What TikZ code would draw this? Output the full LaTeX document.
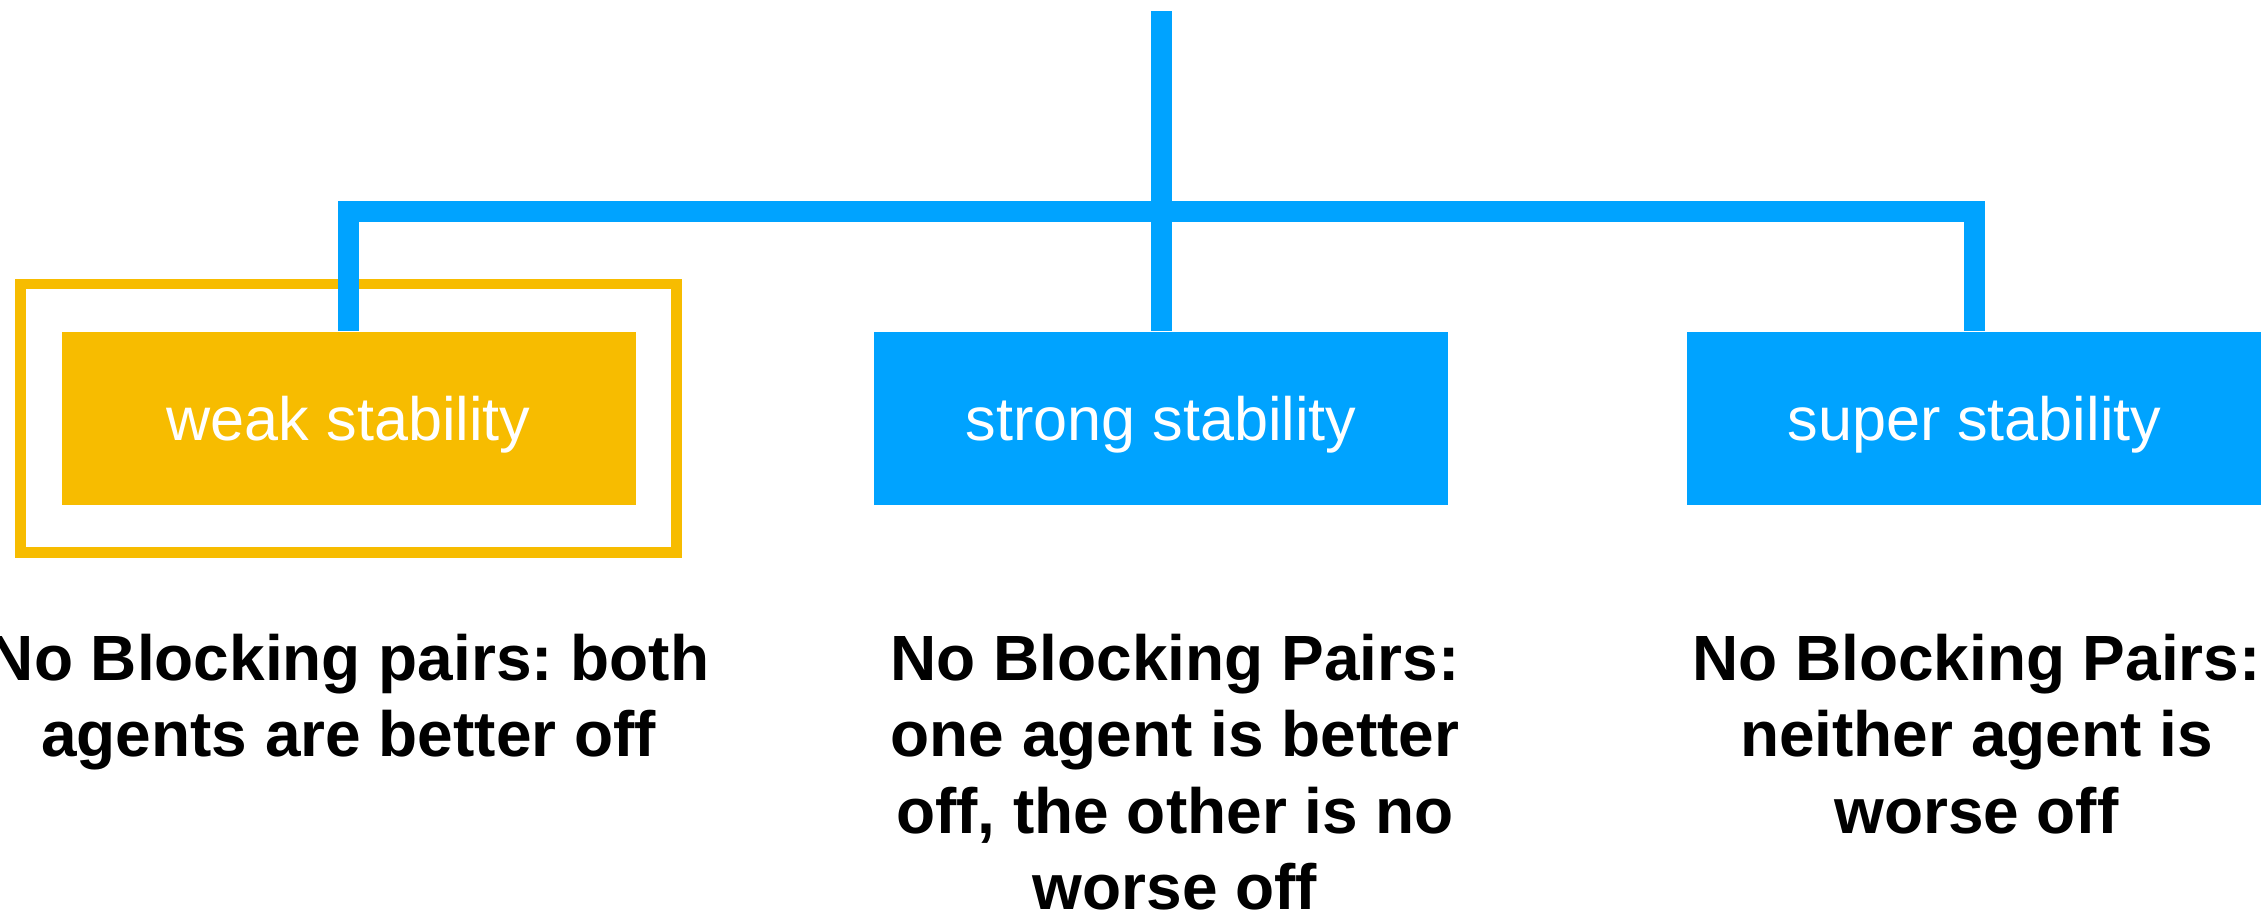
\documentclass[tikz,border=0pt]{standalone}
\usepackage{fontspec}
\setmainfont{Liberation Sans}
\usetikzlibrary{positioning,fit}
\frenchspacing

\definecolor{stabblue}{RGB}{0,163,255}
\definecolor{stabyellow}{RGB}{247,188,0}

\tikzset{
  stabbox/.style={fill=#1, text=white, minimum width=5.74cm, minimum height=1.73cm,
    inner sep=0pt, text depth=0pt, font=\fontsize{17.4}{20}\selectfont},
  branch/.style={draw=stabblue, line width=5.97pt, line join=miter},
  frame/.style={draw=stabyellow, line width=3.04pt, inner xsep=0.405cm, inner ysep=0.47cm},
  verdict/.style={align=center, inner sep=0pt, font=\bfseries\fontsize{18.2}{21.7}\selectfont}
}

\begin{document}
\begin{tikzpicture}
  \useasboundingbox (0,0) rectangle (22.66,9.13);

  % the three kinds of stability
  \node[stabbox=stabblue] (strong) at (11.61,4.947) {strong stability};
  \node[stabbox=stabyellow, left=2.37cm of strong] (weak) {weak stability};
  \node[stabbox=stabblue, right=2.38cm of strong] (super) {super stability};
  \node[frame, fit=(weak)] (mark) {};

  % tree
  \coordinate[above=3.2cm of strong.north] (root);
  \draw[branch] (root) -- (strong.north);
  \draw[branch] (weak.north) -- ++(0,1.2) -| (super.north);

  % what each one means
  \node[verdict, below=1.28cm of weak] (weakdesc) {No Blocking pairs: both\\agents are better off};
  \node[verdict, below=1.28cm of strong, xshift=0.14cm] (strongdesc) {No Blocking Pairs:\\one agent is better\\off, the other is no\\worse off};
  \node[verdict, below=1.28cm of super, xshift=0.02cm] (superdesc) {No Blocking Pairs:\\neither agent is\\worse off};
\end{tikzpicture}
\end{document}
